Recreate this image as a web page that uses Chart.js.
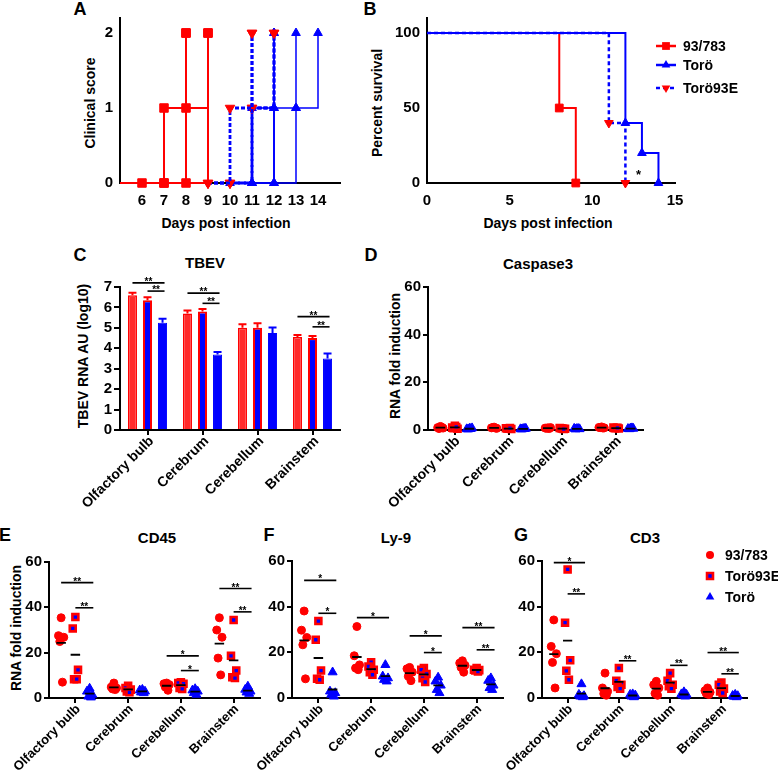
<!DOCTYPE html>
<html><head><meta charset="utf-8">
<script src="https://cdn.jsdelivr.net/npm/chart.js@4/dist/chart.umd.min.js"></script>
<style>
body{margin:0;width:778px;height:770px;background:#fff;position:relative;overflow:hidden;font-family:"Liberation Sans",Arial,Helvetica,sans-serif;color:#000;}
.t{position:absolute;transform:translate(-50%,-50%);font-weight:bold;white-space:nowrap;line-height:1;}
.v{position:absolute;transform:translate(-50%,-50%) rotate(-90deg);font-weight:bold;white-space:nowrap;line-height:1;font-size:14px;}
</style></head><body>
<div class="t" style="left:80px;top:9px;font-size:18px">A</div>
<div class="t" style="left:370px;top:9px;font-size:18px">B</div>
<div class="t" style="left:80px;top:255px;font-size:18px">C</div>
<div class="t" style="left:371px;top:255px;font-size:18px">D</div>
<div class="t" style="left:5px;top:535px;font-size:18px">E</div>
<div class="t" style="left:269px;top:535px;font-size:18px">F</div>
<div class="t" style="left:521px;top:535px;font-size:18px">G</div>
<div class="t" style="left:205px;top:262px;font-size:15px">TBEV</div>
<div class="t" style="left:538px;top:263px;font-size:15px">Caspase3</div>
<div class="t" style="left:157px;top:537px;font-size:15px">CD45</div>
<div class="t" style="left:396px;top:537px;font-size:15px">Ly-9</div>
<div class="t" style="left:645px;top:537px;font-size:15px">CD3</div>
<div class="t" style="left:226px;top:223px;font-size:14px">Days post infection</div>
<div class="t" style="left:548px;top:223px;font-size:14px">Days post infection</div>
<div class="v" style="left:90px;top:103px">Clinical score</div>
<div class="v" style="left:377px;top:103px">Percent survival</div>
<div class="v" style="left:83px;top:356px">TBEV RNA AU (log10)</div>
<div class="v" style="left:395px;top:356px">RNA fold induction</div>
<div class="v" style="left:16px;top:628px">RNA fold induction</div>
<script>
// ---------------- DATA ----------------
const aXTicks = [6,7,8,9,10,11,12,13,14];
const aYTicks = [0,1,2];
// Panel A: clinical score per mouse (days, scores)
const aDays93 = [[5,6,7,8],[5,7,8,9],[5,8,9],[5,7,8]];
const aScore93 = [[0,0,0,2],[0,1,1,2],[0,0,2],[0,0,2]];
const aDaysT93E = [[9,10,11],[9,10,11],[10,11,12],[11,12]];
const aScoreT93E = [[0,1,2],[0,0,2],[0,1,2],[1,2]];
const aDaysToro = [[10,11,12],[11,11,12],[12,13,13],[11,12,13,14],[12,12]];
const aScoreToro = [[0,0,2],[0,1,2],[0,1,2],[0,1,1,2],[0,1]];

// Panel B: survival
const bXTicks = [0,5,10,15];
const bYTicks = [0,50,100];
const bDays93 = [0,8,9];     const bSurv93 = [100,50,0];
const bDaysToro = [0,12,13,14]; const bSurvToro = [100,40,20,0];
const bDaysT93E = [0,11,12];  const bSurvT93E = [100,40,0];
const groupNames = ['93/783','Torö','Torö93E'];
const dotGroupNames = ['93/783','Torö93E','Torö'];

// Panel C: TBEV RNA
const tissues = ['Olfactory bulb','Cerebrum','Cerebellum','Brainstem'];
const tbev93   = [6.6, 5.7, 5.0, 4.55];
const tbevT93E = [6.35, 5.8, 5.0, 4.5];
const tbevToro = [5.25, 3.7, 4.75, 3.5];
const tbevErr93   = [0.12, 0.15, 0.18, 0.1];
const tbevErrT93E = [0.15, 0.12, 0.22, 0.1];
const tbevErrToro = [0.2, 0.12, 0.27, 0.25];
const tbevSig = [
  {c:0,g1:0,g2:2,y:7.2,t:'**'},{c:0,g1:1,g2:2,y:6.8,t:'**'},
  {c:1,g1:0,g2:2,y:6.7,t:'**'},{c:1,g1:1,g2:2,y:6.2,t:'**'},
  {c:3,g1:0,g2:2,y:5.55,t:'**'},{c:3,g1:1,g2:2,y:5.05,t:'**'}];

// Panel D: Caspase3
const casp93   = [[1.5,1.0,0.8,0.6,1.2],[1.2,0.9,0.7,1.0,0.8],[0.9,0.8,1.0,0.7,0.6],[1.3,1.1,0.9,1.0,0.8]];
const caspT93E = [[1.8,1.0,0.5,0.7,1.3],[0.5,0.7,0.4,0.6,0.8],[0.6,0.8,0.5,0.7,0.4],[0.8,1.0,0.6,0.7,0.9]];
const caspToro = [[0.6,0.4,0.8,0.3,0.5],[0.5,0.4,0.6,0.3,0.5],[0.5,0.6,0.4,0.3,0.5],[0.7,0.5,0.6,0.4,0.8]];

// Panel E: CD45
const cd45_93   = [[35.4,27.5,26.8,24.9,7.0],[6.6,4.8,4.4,4.0,3.7],[6.6,6.3,5.9,4.8,3.4],[35.4,30,26.8,17.6,10.2]];
const cd45_T93E = [[35.7,30.7,12.4,8.3,8.3],[5.4,4.4,3.7,2.9,2.5],[6.9,6.6,6.3,4.4,4.0],[34.4,18.6,12.1,9.2,8.8]];
const cd45_Toro = [[4.2,2.9,1.5,0.7,0.3],[3.7,3.4,2.9,2.5,2.2],[4.0,3.4,2.9,2.2,1.5],[5.1,3.7,2.9,2.5,1.9]];
const cd45Sig = [
  {c:0,g1:0,g2:2,y:50.9,t:'**'},{c:0,g1:1,g2:2,y:39.8,t:'**'},
  {c:2,g1:0,g2:2,y:18.6,t:'*'},{c:2,g1:1,g2:2,y:12.1,t:'*'},
  {c:3,g1:0,g2:2,y:48.3,t:'**'},{c:3,g1:1,g2:2,y:38,t:'**'}];

// Panel F: Ly-9
const ly9_93   = [[38.1,29.7,26.5,23.3,8.4],[31.3,18.5,14.5,13.1,12.4],[13.4,12.8,11.3,9.5,7.6],[16.3,15.3,14.3,13.4,11.3]];
const ly9_T93E = [[33.7,25.5,12,8.4,8],[15.7,13.8,12.4,11.3,10.2],[13.1,12.4,10.5,8.7,7.0],[13.1,12.4,12.2,12,11.6]];
const ly9_Toro = [[11.3,2.9,2.2,1.5,0.7],[14.5,9.5,8.7,8,7.3],[9,7.3,5.5,3.6,2.2],[8.7,7.6,5.5,4.4,3.6]];
const ly9Sig = [
  {c:0,g1:0,g2:2,y:51.5,t:'*'},{c:0,g1:1,g2:2,y:37.1,t:'*'},
  {c:1,g1:0,g2:2,y:35.2,t:'*'},
  {c:2,g1:0,g2:2,y:27.2,t:'*'},{c:2,g1:1,g2:2,y:19.9,t:'*'},
  {c:3,g1:0,g2:2,y:30.8,t:'**'},{c:3,g1:1,g2:2,y:21.1,t:'**'}];

// Panel G: CD3
const cd3_93   = [[34.2,22.6,19.4,15.6,4.4],[10.9,4.4,2.9,1.9,1.2],[7.3,5.8,4.4,2.0,1.2],[4.4,3.2,2.5,2.0,1.5]];
const cd3_T93E = [[56.3,33,16.5,11.9,8],[13.1,7.6,5.8,4.8,4.1],[10.9,7.6,5.8,5.1,4.1],[6.8,5.8,4.1,2.9,2.2]];
const cd3_Toro = [[6.1,1.5,0.9,0.7,0.4],[1.7,1.5,1.2,0.7,0.4],[2.6,1.7,1.5,1.2,0.7],[1.5,1.0,0.9,0.6,0.4]];
const cd3Sig = [
  {c:0,g1:0,g2:2,y:59.3,t:'*'},{c:0,g1:1,g2:2,y:45.6,t:'**'},
  {c:1,g1:1,g2:2,y:16.3,t:'**'},{c:2,g1:1,g2:2,y:14.3,t:'**'},
  {c:3,g1:0,g2:2,y:19.9,t:'**'},{c:3,g1:1,g2:2,y:10.6,t:'**'}];

// ---------------- SETUP ----------------
const FONT = '"Liberation Sans", Arial, Helvetica, sans-serif';
Chart.defaults.font.family = FONT;
Chart.defaults.font.weight = 'bold';
Chart.defaults.font.size = 15;
Chart.defaults.color = '#000';
Chart.defaults.animation = false;
Chart.defaults.events = [];
Chart.defaults.plugins.legend.display = false;
Chart.defaults.plugins.tooltip.enabled = false;

const W = 778, H = 770;
const RED = '#ff0000', BLUE = '#0000ff';
function mkCanvas(id){
  const c = document.createElement('canvas');
  c.id = id; c.width = W; c.height = H;
  c.style.cssText = 'position:absolute;left:0;top:0;width:778px;height:770px;pointer-events:none;';
  document.body.appendChild(c);
  return c.getContext('2d');
}
function layoutFor(a, YW, XH){
  return {padding:{left:a.l-YW, top:a.t, right:W-a.r, bottom:H-a.b-XH}};
}
function axis(isX, size, tick, pad, fs, extra){
  const a = {
    border:{display:true,color:'#000',width:2},
    grid:{display:tick>0, drawOnChartArea:false, drawTicks:tick>0, tickLength:tick, color:'#000', lineWidth:2},
    ticks:{color:'#000', font:{size:fs,weight:'bold',family:FONT}, padding:pad, autoSkip:false},
    afterFit:s=>{ if(isX){s.height=size;} else {s.width=size;} s.paddingTop=0;s.paddingBottom=0;s.paddingLeft=0;s.paddingRight=0; }
  };
  for (const k in extra){
    if (extra[k] && typeof extra[k]==='object' && !Array.isArray(extra[k]) && a[k]) Object.assign(a[k], extra[k]);
    else a[k] = extra[k];
  }
  return a;
}
function drawMarker(ctx, shape, x, y, r, fill, stroke, bw){
  ctx.save();
  ctx.beginPath();
  if (shape==='circle'){ ctx.arc(x,y,r,0,Math.PI*2); }
  else if (shape==='rect'){ const s=r*Math.SQRT1_2; ctx.rect(x-s,y-s,2*s,2*s); }
  else if (shape==='tri' || shape==='triDown'){
    const d = shape==='tri'?1:-1;
    for (let i=0;i<3;i++){ const ang=-Math.PI/2 + i*2*Math.PI/3; const px=x+r*Math.cos(ang), py=y+d*r*Math.sin(ang); i?ctx.lineTo(px,py):ctx.moveTo(px,py);} ctx.closePath();
  }
  ctx.fillStyle=fill; ctx.fill();
  if (bw>0){ ctx.lineWidth=bw; ctx.strokeStyle=stroke; ctx.stroke(); }
  ctx.restore();
}
function sigPlugin(items, xOf){
  return {id:'sig', afterDraw(chart){
    const ctx=chart.ctx, ys=chart.scales.y;
    ctx.save();
    ctx.strokeStyle='#000'; ctx.lineWidth=1.6; ctx.fillStyle='#000';
    ctx.font='bold 10px '+FONT; ctx.textAlign='center'; ctx.textBaseline='alphabetic';
    items.forEach(s=>{
      const x1=xOf(chart,s.c,s.g1,false), x2=xOf(chart,s.c,s.g2,true), y=ys.getPixelForValue(s.y);
      ctx.beginPath(); ctx.moveTo(x1,y); ctx.lineTo(x2,y); ctx.stroke();
      ctx.fillText(s.t,(x1+x2)/2,y+2);
    });
    ctx.restore();
  }};
}
// rotated category labels (45 degrees, text ends at the tick)
function rotLabels(fs, dx, dy){
  return {id:'rotlab', afterDraw(chart){
    const s=chart.scales.x, ctx=chart.ctx;
    ctx.save(); ctx.fillStyle='#000'; ctx.font='bold '+fs+'px '+FONT;
    ctx.textAlign='right'; ctx.textBaseline='middle';
    tissues.forEach((t,i)=>{
      const x=s.getPixelForTick(i);
      ctx.save(); ctx.translate(x+dx, s.top+dy); ctx.rotate(-Math.PI/4); ctx.fillText(t,0,0); ctx.restore();
    });
    ctx.restore();
  }};
}

// ---------------- PANEL A ----------------
function mouseSets(daysArr, scoreArr, st){
  return daysArr.map((d,i)=>({
    data:d.map((x,k)=>({x:x, y:scoreArr[i][k]})),
    stepped:true, borderColor:st.line, borderWidth:st.lw, borderDash:st.dash||[],
    pointStyle:st.ps, pointRotation:st.rot||0,
    pointRadius:ctx=>(ctx.raw && ctx.raw.x===5)?0:st.r,
    pointBackgroundColor:st.mk, pointBorderColor:st.mk, pointBorderWidth:1,
    fill:false, clip:false, order:st.order
  }));
}
new Chart(mkCanvas('cA'), {
  type:'line',
  data:{datasets:[
    ...mouseSets(aDays93, aScore93, {line:RED, lw:2, ps:'rect', r:6, mk:RED, order:3}),
    ...mouseSets(aDaysToro, aScoreToro, {line:BLUE, lw:1.5, ps:'triangle', r:5, mk:BLUE, order:2}),
    ...mouseSets(aDaysT93E, aScoreT93E, {line:BLUE, lw:2.8, dash:[4,2], ps:'triangle', rot:180, r:5.5, mk:RED, order:1})
  ]},
  options:{responsive:false, layout:layoutFor({l:120,t:18,r:340,b:183},40,40),
    scales:{
      x:axis(true,40,0,9,15,{type:'linear',min:5,max:15, afterBuildTicks:s=>{s.ticks=aXTicks.map(v=>({value:v}));}}),
      y:axis(false,40,0,7,15,{type:'linear',min:0,max:2.2, afterBuildTicks:s=>{s.ticks=aYTicks.map(v=>({value:v}));}})
    }}
});

// ---------------- PANEL B ----------------
function survSet(days, surv, st){
  return {data:days.map((x,i)=>({x:x,y:surv[i]})), stepped:true, borderColor:st.line, borderWidth:st.lw, borderDash:st.dash||[],
    pointStyle:st.ps, pointRotation:st.rot||0, pointRadius:ctx=>ctx.dataIndex===0?0:st.r,
    pointBackgroundColor:st.mk, pointBorderColor:st.mk, pointBorderWidth:1, fill:false, clip:false, order:st.order};
}
const bStyles = [
  {line:RED, lw:2, ps:'rect', r:5.5, mk:RED, order:3, shape:'rect'},
  {line:BLUE, lw:2, ps:'triangle', r:5, mk:BLUE, order:2, shape:'tri'},
  {line:BLUE, lw:2.5, dash:[4,3], ps:'triangle', rot:180, r:5, mk:RED, order:1, shape:'triDown'}
];
const bLegend = {id:'bleg', afterDraw(chart){
  const ctx=chart.ctx; const ys=[46,65,88];
  groupNames.forEach((n,i)=>{
    const st=bStyles[i];
    ctx.save(); ctx.strokeStyle=st.line; ctx.lineWidth=2.5; ctx.setLineDash(st.dash||[]);
    ctx.beginPath(); ctx.moveTo(656,ys[i]); ctx.lineTo(676,ys[i]); ctx.stroke(); ctx.restore();
    drawMarker(ctx, st.shape, 666, ys[i], st.shape==='rect'?5.5:5, st.mk, st.mk, 0);
    ctx.save(); ctx.fillStyle='#000'; ctx.font='bold 14px '+FONT; ctx.textBaseline='middle'; ctx.fillText(n,683,ys[i]+1); ctx.restore();
  });
  const xs=chart.scales.x, yy=chart.scales.y;
  ctx.save(); ctx.fillStyle='#000'; ctx.font='bold 13px '+FONT; ctx.textAlign='center'; ctx.textBaseline='middle';
  ctx.fillText('*', xs.getPixelForValue(12.8), yy.getPixelForValue(5)); ctx.restore();
}};
new Chart(mkCanvas('cB'), {
  type:'line',
  data:{datasets:[
    survSet(bDays93,bSurv93,bStyles[0]),
    survSet(bDaysToro,bSurvToro,bStyles[1]),
    survSet(bDaysT93E,bSurvT93E,bStyles[2])
  ]},
  options:{responsive:false, layout:layoutFor({l:427,t:18,r:675,b:183},40,40),
    scales:{
      x:axis(true,40,0,9,15,{type:'linear',min:0,max:15, afterBuildTicks:s=>{s.ticks=bXTicks.map(v=>({value:v}));}}),
      y:axis(false,40,0,7,15,{type:'linear',min:0,max:110, afterBuildTicks:s=>{s.ticks=bYTicks.map(v=>({value:v}));}})
    }},
  plugins:[bLegend]
});

// ---------------- PANEL C ----------------
const errPlugin = {id:'errs', afterDatasetsDraw(chart){
  const ctx=chart.ctx, ys=chart.scales.y;
  chart.data.datasets.forEach((ds,i)=>{
    const meta=chart.getDatasetMeta(i);
    meta.data.forEach((bar,j)=>{
      const yv=ys.getPixelForValue(ds.data[j]), yt=ys.getPixelForValue(ds.data[j]+ds.errs[j]);
      ctx.save(); ctx.strokeStyle=ds.errColor; ctx.lineWidth=2;
      ctx.beginPath(); ctx.moveTo(bar.x,yv); ctx.lineTo(bar.x,yt); ctx.moveTo(bar.x-4,yt); ctx.lineTo(bar.x+4,yt); ctx.stroke(); ctx.restore();
    });
  });
}};
new Chart(mkCanvas('cC'), {
  type:'bar',
  data:{labels:tissues, datasets:[
    {data:tbev93, backgroundColor:'#ff2a2a', borderColor:RED, borderWidth:1.5, errs:tbevErr93, errColor:RED, categoryPercentage:0.82, barPercentage:0.6},
    {data:tbevT93E, backgroundColor:BLUE, borderColor:RED, borderWidth:2, errs:tbevErrT93E, errColor:RED, categoryPercentage:0.82, barPercentage:0.6},
    {data:tbevToro, backgroundColor:BLUE, borderColor:BLUE, borderWidth:1, errs:tbevErrToro, errColor:BLUE, categoryPercentage:0.82, barPercentage:0.6}
  ]},
  options:{responsive:false, layout:layoutFor({l:120,t:287,r:340,b:430},40,70),
    scales:{
      x:axis(true,70,5,2,14,{grid:{offset:false}, ticks:{display:false}}),
      y:axis(false,40,6,2,15,{type:'linear',min:0,max:7, ticks:{stepSize:1}})
    }},
  plugins:[errPlugin, rotLabels(14,4,9), sigPlugin(tbevSig,(chart,c,g,end)=>chart.getDatasetMeta(g).data[c].x+(end?2:0))]
});

// ---------------- DOT PLOTS ----------------
const OFF = [-0.27, 0, 0.27];
const JIT = [0, -0.05, 0.05, -0.025, 0.025];
const STY = [
  {ps:'circle', r:4, bg:RED, bc:RED, bw:1},
  {ps:'rect', r:4.2, bg:BLUE, bc:RED, bw:2.6},
  {ps:'triangle', r:5.2, bg:BLUE, bc:BLUE, bw:1}
];
function dotData(vals,g){ const p=[]; vals.forEach((arr,c)=>arr.forEach((v,k)=>p.push({x:c+OFF[g]+JIT[k], y:v}))); return p; }
function meanData(vals,g){ const p=[]; vals.forEach((arr,c)=>{ const m=arr.reduce((a,b)=>a+b,0)/arr.length;
  p.push({x:c+OFF[g]-0.09,y:m},{x:c+OFF[g]+0.09,y:m},{x:c+OFF[g]+0.1,y:null}); }); return p; }
const dotX = (chart,c,g,end)=>chart.scales.x.getPixelForValue(c+OFF[g]+(end?0.07:0));
const gLegend = {id:'gleg', afterDraw(chart){
  const ctx=chart.ctx; const ys=[555,576,597]; const shapes=['circle','rect','tri'];
  dotGroupNames.forEach((n,i)=>{
    if(i===1){ drawMarker(ctx,'rect',710,ys[i],4.2,BLUE,RED,2.6); }
    else drawMarker(ctx, shapes[i], 710, ys[i], i===0?4:5, STY[i].bg, STY[i].bc, 0);
    ctx.save(); ctx.fillStyle='#000'; ctx.font='bold 14px '+FONT; ctx.textBaseline='middle'; ctx.fillText(n,725,ys[i]+1); ctx.restore();
  });
}};
function dotChart(id, area, groups, sigs, extra, fs){
  const datasets=[];
  groups.forEach((vals,g)=>{
    datasets.push({type:'scatter', data:dotData(vals,g), pointStyle:STY[g].ps, pointRadius:STY[g].r,
      pointBackgroundColor:STY[g].bg, pointBorderColor:STY[g].bc, pointBorderWidth:STY[g].bw, showLine:false, clip:false, order:2});
    datasets.push({type:'line', data:meanData(vals,g), borderColor:'#000', borderWidth:1.8, pointRadius:0, spanGaps:false, clip:false, order:1});
  });
  new Chart(mkCanvas(id), {
    type:'scatter', data:{datasets},
    options:{responsive:false, layout:layoutFor(area,40,70),
      scales:{
        x:axis(true,70,5,2,fs,{type:'linear',min:-0.5,max:3.5,
           afterBuildTicks:s=>{s.ticks=tissues.map((t,i)=>({value:i}));},
           ticks:{display:false}}),
        y:axis(false,40,5,2,15,{type:'linear',min:0,max:60, ticks:{stepSize:20}})
      }},
    plugins:[rotLabels(fs,3,9), sigPlugin(sigs,dotX)].concat(extra)
  });
}
dotChart('cD',{l:428,t:287,r:643,b:430},[casp93,caspT93E,caspToro],[],[],14);
dotChart('cE',{l:49,t:562,r:260,b:698},[cd45_93,cd45_T93E,cd45_Toro],cd45Sig,[],13);
dotChart('cF',{l:292,t:561,r:503,b:698},[ly9_93,ly9_T93E,ly9_Toro],ly9Sig,[],13);
dotChart('cG',{l:542,t:561,r:747,b:698},[cd3_93,cd3_T93E,cd3_Toro],cd3Sig,[gLegend],13);
</script>
</body></html>
